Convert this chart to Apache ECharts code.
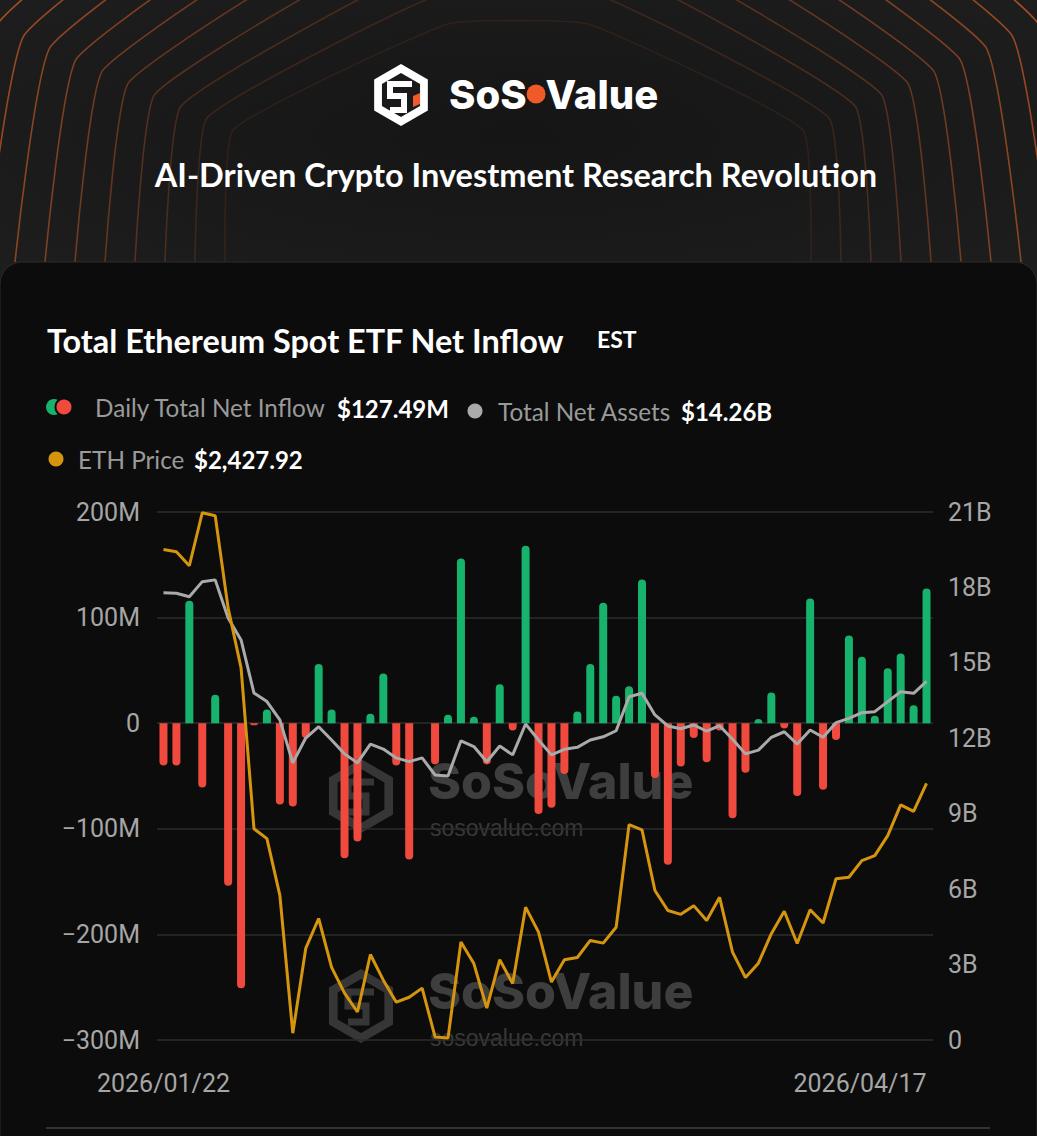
<!DOCTYPE html>
<html>
<head>
<meta charset="utf-8">
<script src="https://cdn.jsdelivr.net/npm/echarts@6/dist/echarts.min.js"></script>
<style>
html,body{margin:0;padding:0;background:#0c0c0c;}
#c{width:1037px;height:1136px;}
</style>
</head>
<body>
<div id="c"></div>
<script>
// ---------- DATA ----------
const dates = [
  '2026/01/22','2026/01/23','2026/01/26','2026/01/27','2026/01/28','2026/01/29','2026/01/30',
  '2026/02/02','2026/02/03','2026/02/04','2026/02/05','2026/02/06',
  '2026/02/09','2026/02/10','2026/02/11','2026/02/12','2026/02/13',
  '2026/02/17','2026/02/18','2026/02/19','2026/02/20',
  '2026/02/23','2026/02/24','2026/02/25','2026/02/26','2026/02/27',
  '2026/03/02','2026/03/03','2026/03/04','2026/03/05','2026/03/06',
  '2026/03/09','2026/03/10','2026/03/11','2026/03/12','2026/03/13',
  '2026/03/16','2026/03/17','2026/03/18','2026/03/19','2026/03/20',
  '2026/03/23','2026/03/24','2026/03/25','2026/03/26','2026/03/27',
  '2026/03/30','2026/03/31','2026/04/01','2026/04/02',
  '2026/04/06','2026/04/07','2026/04/08','2026/04/09','2026/04/10',
  '2026/04/13','2026/04/14','2026/04/15','2026/04/16','2026/04/17'
];
// Daily total net inflow, million USD
const inflowM = [
  -40, -40, 116, -61, 27, -154, -251, -2, 13, -77,
  -79, -14, 56, 13, -128, -112, 9, 47, -40, -129,
  0, -39, 8, 156, 6, -39, 37, -7, 168, -86,
  -80, -48, 11, 56, 114, 26, 35, 136, -52, -134,
  -41, -14, -37, -7, -90, -47, 4, 29, -5, -69,
  118, -63, -16, 83, 63, 7, 52, 66, 17, 127.49
];
// Total net assets, billion USD
const netAssetsB = [
  17.79, 17.77, 17.63, 18.23, 18.30, 16.78, 15.91, 13.80, 13.46, 12.73,
  11.02, 12.01, 12.46, 11.93, 11.38, 11.02, 11.77, 11.57, 11.22, 11.07,
  11.22, 10.54, 10.50, 11.90, 11.67, 11.07, 11.69, 11.34, 12.57, 11.93,
  11.34, 11.56, 11.64, 11.93, 12.06, 12.30, 13.65, 13.79, 12.93, 12.49,
  12.38, 12.53, 12.28, 12.50, 11.96, 11.38, 11.53, 12.04, 12.26, 11.77,
  12.33, 12.04, 12.62, 12.79, 13.02, 13.06, 13.46, 13.85, 13.79, 14.26
];
// ETH price, USD
const ethPrice = [
  3046, 3040, 3003, 3143, 3135, 2891, 2733, 2308, 2282, 2132,
  1768, 1992, 2071, 1942, 1874, 1824, 1976, 1908, 1850, 1863,
  1887, 1758, 1755, 2009, 1952, 1834, 1962, 1899, 2101, 2035,
  1903, 1962, 1968, 2013, 2006, 2048, 2319, 2305, 2145, 2092,
  2082, 2105, 2066, 2127, 1982, 1915, 1953, 2031, 2090, 2005,
  2094, 2059, 2176, 2180, 2224, 2237, 2290, 2371, 2354, 2427.92
];
const legendValues = { inflow: '$127.49M', assets: '$14.26B', price: '$2,427.92' };

// ---------- STYLE ----------
const GREEN = '#17b26c', RED = '#f04a3e', GRAY = '#aaaaaa', ORANGE = '#d6950f';
const AXIS_TXT = '#a6a6a6';

const chart = echarts.init(document.getElementById('c'), null, { renderer: 'svg' });

// decorative nested outlines in the header
const deco = [];
for (let k = 0; k < 14; k++) {
  const xb = 225 - 30 * k;
  const xw = xb + 8 + 4 * k, yw = 130 - 12 * k;
  const xt = 518 - (70 + 12 * k), yt = 24 - 28 * k;
  const pts = [[xb, 262], [xw, yw], [xt, yt], [1036 - xt, yt], [1036 - xw, yw], [1036 - xb, 262]];
  const a = Math.min(0.9, 0.12 + 0.07 * k);
  deco.push({
    type: 'polyline', z: -20, silent: true,
    shape: { points: pts, smooth: 0.12 },
    style: { stroke: 'rgba(210,95,40,' + a + ')', lineWidth: 1.6, fill: null }
  });
}

function hexPts(cx, cy, r) {
  const p = [];
  for (let i = 0; i < 6; i++) {
    const ang = (-90 + 60 * i) * Math.PI / 180;
    p.push([cx + r * Math.cos(ang), cy + r * Math.sin(ang)]);
  }
  return p;
}

function watermark(y0) {
  return [
    { type: 'polygon', z: -5, silent: true, shape: { points: hexPts(361, y0 + 8, 37) }, style: { fill: '#363636' } },
    { type: 'polygon', z: -5, silent: true, shape: { points: hexPts(361, y0 + 8, 27) }, style: { fill: '#0c0c0c' } },
    { type: 'polyline', z: -5, silent: true, shape: { points: [[374, y0 - 6], [348, y0 - 6], [348, y0 + 8], [366, y0 + 8], [366, y0 + 24], [348, y0 + 24]] }, style: { stroke: '#363636', lineWidth: 7, fill: null } },
    { type: 'text', z: -5, silent: true, style: { text: 'SoSoValue', x: 428, y: y0 - 7, verticalAlign: 'middle', fill: '#3e3e3e', font: '800 50px Inter' } },
    { type: 'text', z: -5, silent: true, style: { text: 'sosovalue.com', x: 430, y: y0 + 40, verticalAlign: 'middle', fill: '#383838', font: '23px "Liberation Sans"' } }
  ];
}

const graphics = [
  { type: 'rect', z: -30, silent: true, shape: { x: 0, y: 0, width: 1037, height: 300 },
    style: { fill: new echarts.graphic.RadialGradient(0.5, 0.45, 0.7, [{ offset: 0, color: '#151515' }, { offset: 1, color: '#1e1e1e' }]) } },
  ...deco,
  { type: 'rect', z: -10, silent: true, shape: { x: 0, y: 262, width: 1037, height: 900, r: [22, 22, 0, 0] },
    style: { fill: '#0c0c0c', stroke: '#2c2c2c', lineWidth: 1 } },
  // header logo
  { type: 'polygon', z: -9, silent: true, shape: { points: hexPts(401, 95, 31) }, style: { fill: '#ffffff' } },
  { type: 'polygon', z: -9, silent: true, shape: { points: hexPts(401, 95, 22) }, style: { fill: '#1a1a1a' } },
  { type: 'polyline', z: -9, silent: true, shape: { points: [[412, 84], [390, 84], [390, 96], [404, 96], [404, 110], [390, 110]] }, style: { stroke: '#ffffff', lineWidth: 6, fill: null } },
  { type: 'polygon', z: -9, silent: true, shape: { points: [[413, 96], [420, 93], [420, 104], [413, 107]] }, style: { fill: '#f05a28' } },
  { type: 'text', z: -9, silent: true, style: {
      text: '{a|SoS}{d|}{a|Value}', x: 449, y: 94, verticalAlign: 'middle',
      rich: { a: { fill: '#ffffff', font: '800 40px Inter' }, d: { width: 19, height: 19, borderRadius: 10, backgroundColor: '#f05a28' } } } },
  { type: 'text', z: -9, silent: true, style: { text: 'AI-Driven Crypto Investment Research Revolution', x: 516, y: 174, align: 'center', verticalAlign: 'middle', fill: '#ffffff', font: 'bold 32.5px Lato' } },
  // card title
  { type: 'text', z: -9, silent: true, style: { text: 'Total Ethereum Spot ETF Net Inflow', x: 47, y: 340, verticalAlign: 'middle', fill: '#ffffff', font: 'bold 32.4px Lato' } },
  { type: 'text', z: -9, silent: true, style: { text: 'EST', x: 597, y: 339, verticalAlign: 'middle', fill: '#ffffff', font: 'bold 23px Lato' } },
  // legend
  { type: 'circle', z: -9, silent: true, shape: { cx: 54, cy: 407, r: 8 }, style: { fill: GREEN } },
  { type: 'circle', z: -9, silent: true, shape: { cx: 64, cy: 407, r: 8.5 }, style: { fill: RED, stroke: '#0c0c0c', lineWidth: 2 } },
  { type: 'text', z: -9, silent: true, style: { text: 'Daily Total Net Inflow', x: 95, y: 407, verticalAlign: 'middle', fill: '#9a9a9a', font: '24.3px Lato' } },
  { type: 'text', z: -9, silent: true, style: { text: legendValues.inflow, x: 337, y: 408, verticalAlign: 'middle', fill: '#ffffff', font: 'bold 24px Lato' } },
  { type: 'circle', z: -9, silent: true, shape: { cx: 475, cy: 411, r: 7.5 }, style: { fill: GRAY } },
  { type: 'text', z: -9, silent: true, style: { text: 'Total Net Assets', x: 498, y: 411, verticalAlign: 'middle', fill: '#9a9a9a', font: '24.3px Lato' } },
  { type: 'text', z: -9, silent: true, style: { text: legendValues.assets, x: 681, y: 411, verticalAlign: 'middle', fill: '#ffffff', font: 'bold 24px Lato' } },
  { type: 'circle', z: -9, silent: true, shape: { cx: 56, cy: 459, r: 7.5 }, style: { fill: ORANGE } },
  { type: 'text', z: -9, silent: true, style: { text: 'ETH Price', x: 78, y: 459, verticalAlign: 'middle', fill: '#9a9a9a', font: '24.3px Lato' } },
  { type: 'text', z: -9, silent: true, style: { text: legendValues.price, x: 194, y: 459, verticalAlign: 'middle', fill: '#ffffff', font: 'bold 24px Lato' } },
  // bottom divider
  { type: 'rect', z: -9, silent: true, shape: { x: 46, y: 1127, width: 944, height: 2 }, style: { fill: '#333333' } },
  ...watermark(788),
  ...watermark(998)
];

const barData = inflowM.map(v => ({
  value: v,
  itemStyle: { color: v >= 0 ? GREEN : RED, borderRadius: v >= 0 ? [4, 4, 0, 0] : [0, 0, 4, 4] }
}));

chart.setOption({
  backgroundColor: 'transparent',
  animation: false,
  graphic: graphics,
  grid: { left: 157, right: 104, top: 512, bottom: 96, containLabel: false },
  xAxis: {
    type: 'category', data: dates, boundaryGap: true,
    axisLine: { show: false }, axisTick: { show: false }, splitLine: { show: false },
    axisLabel: {
      interval: (i) => i === 0 || i === dates.length - 1,
      color: AXIS_TXT, fontSize: 25, fontFamily: 'Roboto', margin: 31,
      alignMinLabel: 'center', alignMaxLabel: 'right'
    }
  },
  yAxis: [
    {
      type: 'value', min: -300, max: 200, interval: 100, position: 'left',
      axisLine: { show: false }, axisTick: { show: false },
      splitLine: { lineStyle: { color: '#2d2d2d', width: 1.5 } },
      axisLabel: { color: AXIS_TXT, fontSize: 25, fontFamily: 'Roboto', margin: 17,
        formatter: v => v === 0 ? '0' : (v < 0 ? '\u2212' : '') + Math.abs(v) + 'M' }
    },
    {
      type: 'value', min: 0, max: 21, interval: 3, position: 'right',
      axisLine: { show: false }, axisTick: { show: false }, splitLine: { show: false },
      axisLabel: { color: AXIS_TXT, fontSize: 25, fontFamily: 'Roboto', margin: 15,
        formatter: v => v === 0 ? '0' : v + 'B' }
    },
    { type: 'value', min: 1750, max: 3145, show: false, splitLine: { show: false } }
  ],
  series: [
    { name: 'Daily Total Net Inflow', type: 'bar', yAxisIndex: 0, data: barData, barWidth: 8, z: 2 },
    { name: 'Total Net Assets', type: 'line', yAxisIndex: 1, data: netAssetsB, symbol: 'none',
      lineStyle: { color: GRAY, width: 3 }, itemStyle: { color: GRAY }, z: 3 },
    { name: 'ETH Price', type: 'line', yAxisIndex: 2, data: ethPrice, symbol: 'none',
      lineStyle: { color: ORANGE, width: 3 }, itemStyle: { color: ORANGE }, z: 4 }
  ]
});
</script>
</body>
</html>
